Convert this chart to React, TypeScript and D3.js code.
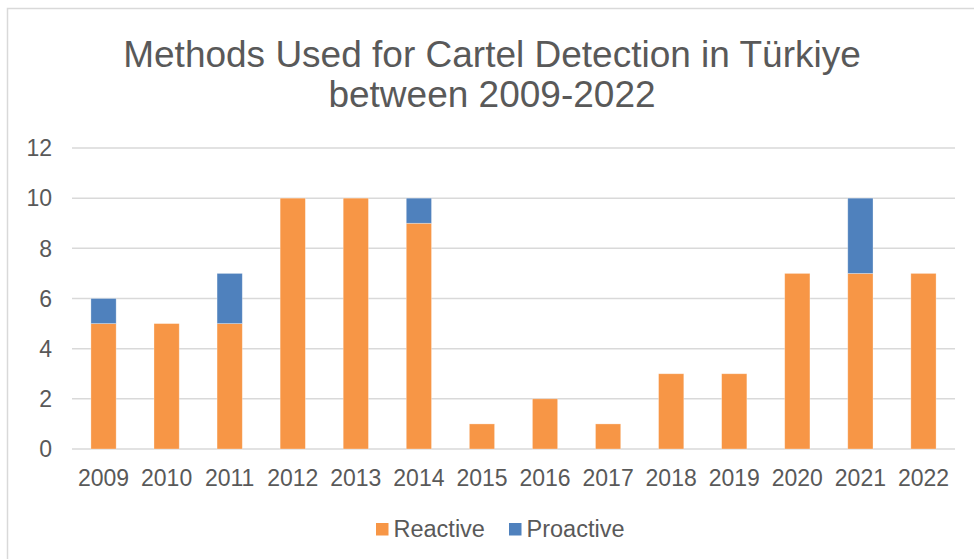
import React from "react";
import * as d3 from "d3";

const years = ["2009","2010","2011","2012","2013","2014","2015","2016","2017","2018","2019","2020","2021","2022"];
const reactive = [5,5,5,10,10,9,1,2,1,3,3,7,7,7];
const proactive = [1,0,2,0,0,1,0,0,0,0,0,0,3,0];
const yTicks = [0,2,4,6,8,10,12];
const seriesNames = ["Reactive","Proactive"];
const seriesColors = ["#F79646","#4F81BD"];
const titleLines = ["Methods Used for Cartel Detection in Türkiye","between 2009-2022"];

const W = 974, H = 559;
const FONT = "Liberation Sans, Arial, sans-serif";

export default function App() {
  const x = d3.scaleBand<string>().domain(years).range([72, 955]).paddingInner(0.6).paddingOuter(0.3);
  const y = d3.scaleLinear().domain([0, 12]).range([449, 148]);
  const data = years.map((yr, i) => ({ year: yr, Reactive: reactive[i], Proactive: proactive[i] }));
  const stack = d3.stack<any>().keys(seriesNames)(data);

  return (
    <svg width={W} height={H} style={{ position: "absolute", left: 0, top: 0, background: "#fff" }} fontFamily={FONT}>
      <rect x={0} y={0} width={W} height={H} fill="#fff" />
      <path d={`M7.5,${H + 5} V8.5 H${W + 5}`} fill="none" stroke="#d9d9d9" strokeWidth={1.5} />
      {titleLines.map((t, i) => (
        <text key={i} x={492} y={67 + i * 40} textAnchor="middle" fontSize={37} fill="#595959">{t}</text>
      ))}
      {yTicks.map((t) => (
        <g key={t}>
          <line x1={72} x2={955} y1={y(t)} y2={y(t)} stroke="#d9d9d9" strokeWidth={1.5} />
          <text x={52} y={y(t)} dy="0.36em" textAnchor="end" fontSize={23} fill="#595959">{t}</text>
        </g>
      ))}
      {stack.map((s, si) => (
        <g key={si} fill={seriesColors[si]}>
          {s.map((d, i) => d[1] - d[0] > 0 ? (
            <rect key={i} x={x(years[i])} y={y(d[1])} width={x.bandwidth()} height={y(d[0]) - y(d[1])} stroke="#fff" strokeOpacity={0.4} strokeWidth={0.75} />
          ) : null)}
        </g>
      ))}
      {years.map((yr) => (
        <text key={yr} x={(x(yr) as number) + x.bandwidth() / 2} y={486} textAnchor="middle" fontSize={23} fill="#595959">{yr}</text>
      ))}
      {seriesNames.map((n, i) => {
        const lx = [376, 509][i];
        return (
          <g key={n}>
            <rect x={lx} y={523} width={12.5} height={12.5} fill={seriesColors[i]} />
            <text x={lx + 17.5} y={537} fontSize={23.5} fill="#595959">{n}</text>
          </g>
        );
      })}
    </svg>
  );
}
